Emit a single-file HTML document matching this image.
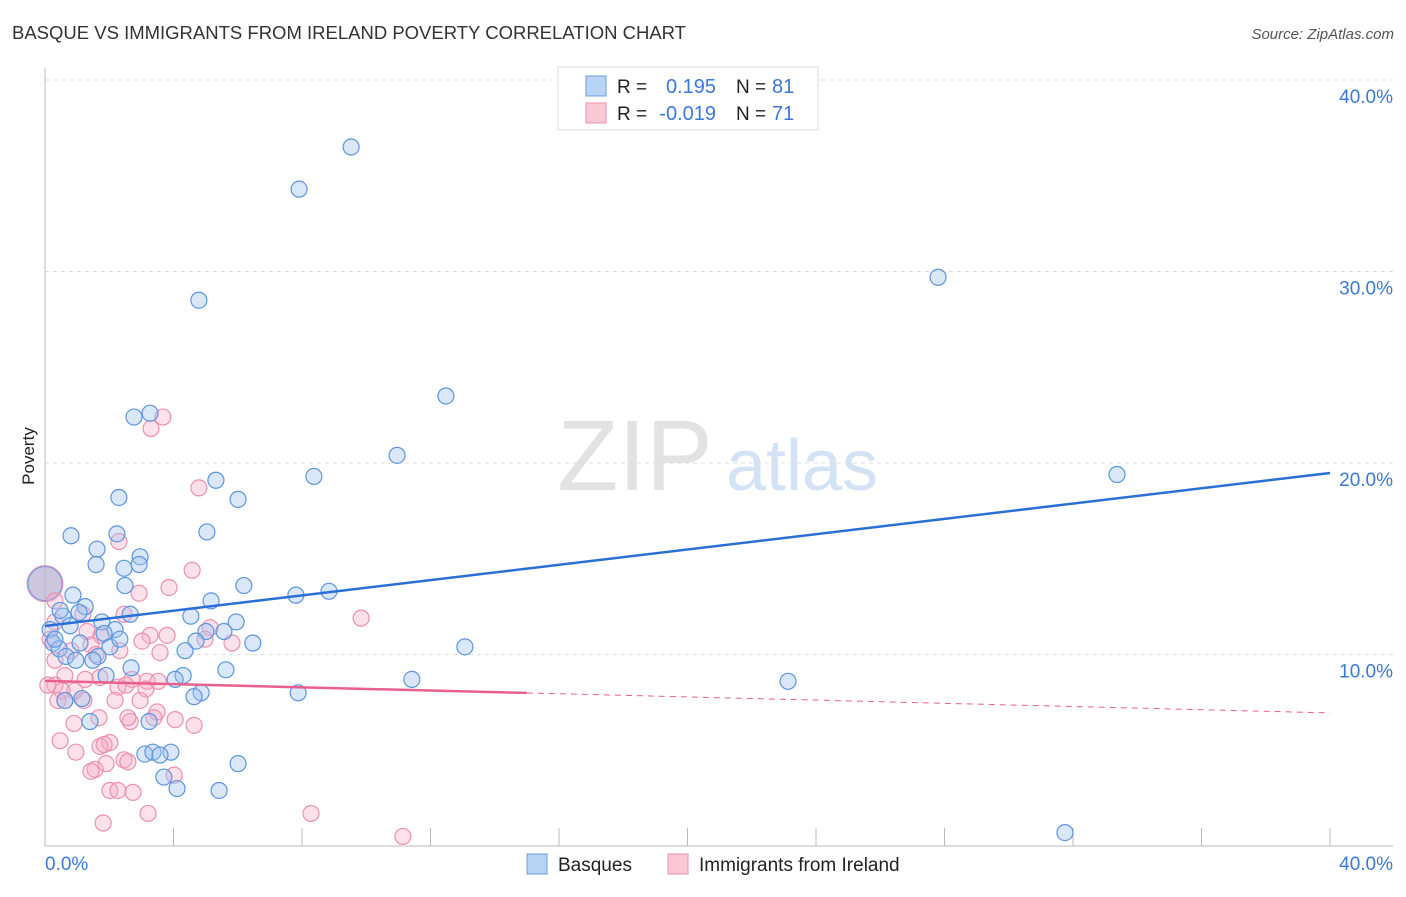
<!DOCTYPE html>
<html><head><meta charset="utf-8"><style>
body{margin:0;background:#fff;font-family:"Liberation Sans",sans-serif}
svg text{font-family:"Liberation Sans",sans-serif}
</style></head><body>
<svg id="chart" width="1406" height="892">
<text x="12" y="39" font-size="18.5" fill="#333">BASQUE VS IMMIGRANTS FROM IRELAND POVERTY CORRELATION CHART</text>
<text x="1394" y="39" font-size="15" fill="#555" font-style="italic" text-anchor="end">Source: ZipAtlas.com</text>
<g><text x="635" y="490" font-size="100" fill="#e2e2e2" font-family="Liberation Serif" text-anchor="middle">ZIP</text><text x="802" y="490" font-size="72" fill="#d3e2f5" text-anchor="middle">atlas</text></g>
<text transform="translate(34,456) rotate(-90)" font-size="17" fill="#222" text-anchor="middle">Poverty</text>
<g id="grid"></g><g id="axes"></g><g id="marks"></g><g id="trends"></g>
<g>
<rect x="558" y="67" width="260" height="63" fill="#fff" stroke="#ddd"/>
<rect x="586" y="76" width="20" height="20" fill="#b9d3f5" stroke="#6a9de0"/>
<rect x="586" y="103" width="20" height="20" fill="#f9c8d6" stroke="#ee8fb0"/>
<text x="617" y="93" font-size="19" fill="#222">R =</text><text x="716" y="93" font-size="20" fill="#3b78d8" text-anchor="end">0.195</text>
<text x="736" y="93" font-size="19" fill="#222">N =</text><text x="772" y="93" font-size="20" fill="#3b78d8">81</text>
<text x="617" y="120" font-size="19" fill="#222">R =</text><text x="716" y="120" font-size="20" fill="#3b78d8" text-anchor="end">-0.019</text>
<text x="736" y="120" font-size="19" fill="#222">N =</text><text x="772" y="120" font-size="20" fill="#3b78d8">71</text>
</g>
<g>
<rect x="527" y="854" width="20" height="20" fill="#b9d3f5" stroke="#6a9de0"/><text x="558" y="871" font-size="19" fill="#222">Basques</text>
<rect x="668" y="854" width="20" height="20" fill="#f9c8d6" stroke="#ee8fb0"/><text x="699" y="871" font-size="19" fill="#222">Immigrants from Ireland</text>
</g>
</svg>
<script>
const blueX=[9.53,7.91,27.8,4.79,12.48,2.77,3.27,10.96,8.37,5.32,33.37,6.01,2.30,5.04,0.81,2.24,1.62,2.96,1.59,2.46,2.93,2.49,6.19,8.84,7.81,5.17,0.87,1.25,2.65,4.54,0.56,1.06,1.77,5.95,0.16,2.18,1.84,5.01,5.57,0.25,4.70,6.47,1.09,0.44,2.02,13.07,0.65,1.65,1.49,2.68,5.63,1.90,4.30,4.05,11.42,23.13,4.86,4.64,7.88,1.15,1.40,3.24,3.11,3.36,3.92,6.01,3.70,4.11,5.42,31.75,0.47,0.31,0.78,0.96,3.58,4.36,2.33,0.62];
const blueY=[36.5,34.3,29.7,28.5,23.5,22.4,22.6,20.4,19.3,19.1,19.4,18.1,18.2,16.4,16.2,16.3,15.5,15.1,14.7,14.5,14.7,13.6,13.6,13.3,13.1,12.8,13.1,12.5,12.1,12.0,12.0,12.2,11.7,11.7,11.3,11.3,11.1,11.2,11.2,10.6,10.7,10.6,10.6,10.3,10.4,10.4,9.9,9.9,9.7,9.3,9.2,8.9,8.9,8.7,8.7,8.6,8.0,7.8,8.0,7.7,6.5,6.5,4.8,4.9,4.9,4.3,3.6,3.0,2.9,0.7,12.3,10.8,11.5,9.7,4.75,10.2,10.8,7.6];
const pinkX=[3.67,3.30,4.79,2.30,4.58,2.93,3.86,9.84,2.46,1.18,3.27,3.80,1.74,3.02,5.82,0.31,0.16,1.31,1.43,0.81,3.58,5.14,4.98,0.31,0.62,1.59,1.71,2.71,3.18,2.27,2.52,0.31,0.53,0.93,0.40,0.62,1.21,3.14,3.52,0.90,1.68,2.65,2.58,3.49,3.39,4.64,2.02,1.71,1.84,0.96,1.90,1.56,1.43,2.46,2.58,2.02,2.27,2.74,4.02,3.21,1.81,8.28,11.14,0.31,0.47,1.25,2.18,4.05,2.33,0.09,2.96];
const pinkY=[22.4,21.8,18.7,15.9,14.4,13.2,13.5,11.9,12.1,12.1,11.0,11.0,11.0,10.7,10.6,11.7,10.8,11.2,10.5,10.2,10.1,11.4,10.8,9.7,8.9,10.0,8.8,8.7,8.6,8.3,8.4,8.4,8.1,8.1,7.6,7.6,7.6,8.2,8.6,6.4,6.7,6.5,6.7,7.0,6.7,6.3,5.4,5.2,5.3,4.9,4.3,4.0,3.9,4.5,4.4,2.9,2.9,2.8,3.7,1.7,1.2,1.7,0.5,12.8,5.5,8.7,7.6,6.6,10.2,8.4,7.6];
const bigPoint=[0,13.7];
const yTicks=[10,20,30,40];
const yTickLabels=["10.0%","20.0%","30.0%","40.0%"];
const xTickVals=[4,8,12,16,20,24,28,32,36,40];
const blueTrend=[11.49,19.48];
const pinkTrend=[8.62,6.95];
const pinkSolidEnd=15;

const X=v=>45+v/40*1285, Y=v=>846-v/10*191.5;
const NS="http://www.w3.org/2000/svg";
function mk(tag,attrs,parent){const e=document.createElementNS(NS,tag);for(const k in attrs)e.setAttribute(k,attrs[k]);document.getElementById(parent).appendChild(e);return e;}
yTicks.forEach((t,i)=>{
 const l=mk('line',{x1:45,x2:1393,y1:Y(t),y2:Y(t),stroke:'#ddd','stroke-dasharray':'4,4'},'grid');
 
 
 const tx=mk('text',{x:1393,y:Y(t)+23,'font-size':19,fill:'#3b78d8','text-anchor':'end'},'grid');tx.textContent=yTickLabels[i];
 
 
});
mk('line',{x1:45,x2:45,y1:68,y2:846,stroke:'#bbb'},'axes');
mk('line',{x1:45,x2:1393,y1:846,y2:846,stroke:'#bbb'},'axes');
xTickVals.forEach(v=>{const t=mk('line',{x1:X(v),x2:X(v),y1:828,y2:846,stroke:'#bbb'},'axes');
 
 });
let a=mk('text',{x:45,y:870,'font-size':19,fill:'#3b78d8'},'axes');a.textContent='0.0%';


a=mk('text',{x:1393,y:870,'font-size':19,fill:'#3b78d8','text-anchor':'end'},'axes');a.textContent='40.0%';


let bp=mk('circle',{cx:X(bigPoint[0]),cy:Y(bigPoint[1]),r:18,fill:'rgba(245,170,195,0.4)',stroke:'#ee8fb0'},'marks');


bp=mk('circle',{cx:X(bigPoint[0]),cy:Y(bigPoint[1]),r:17,fill:'rgba(160,175,215,0.5)',stroke:'#6a9de0'},'marks');


pinkX.forEach((x,i)=>{const c=mk('circle',{cx:X(x),cy:Y(pinkY[i]),r:8,fill:'rgba(245,170,195,0.35)',stroke:'#ee8fb0','stroke-width':1.2},'marks');
 
 });
blueX.forEach((x,i)=>{const c=mk('circle',{cx:X(x),cy:Y(blueY[i]),r:8,fill:'rgba(160,195,240,0.4)',stroke:'#5b95e0','stroke-width':1.2},'marks');
 
 });
let tl=mk('line',{x1:X(0),y1:Y(blueTrend[0]),x2:X(40),y2:Y(blueTrend[1]),stroke:'#2a6fd6','stroke-width':2.5},'trends');


const pm=pinkTrend[0]+(pinkTrend[1]-pinkTrend[0])*pinkSolidEnd/40;
tl=mk('line',{x1:X(0),y1:Y(pinkTrend[0]),x2:X(pinkSolidEnd),y2:Y(pm),stroke:'#e8608c','stroke-width':2.5},'trends');


tl=mk('line',{x1:X(pinkSolidEnd),y1:Y(pm),x2:X(40),y2:Y(pinkTrend[1]),stroke:'#e8608c','stroke-width':1,'stroke-dasharray':'6,5'},'trends');


</script>
</body></html>
